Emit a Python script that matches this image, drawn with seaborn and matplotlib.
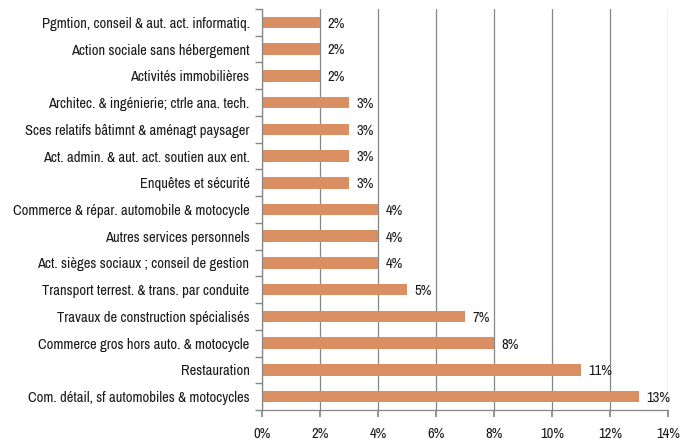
import matplotlib
matplotlib.use("Agg")
import matplotlib.pyplot as plt
import seaborn as sns
import pandas as pd
import numpy as np
from matplotlib import font_manager

categories = [
    "Pgmtion, conseil & aut. act. informatiq.",
    "Action sociale sans hébergement",
    "Activités immobilières",
    "Architec. & ingénierie; ctrle ana. tech.",
    "Sces relatifs bâtimnt & aménagt paysager",
    "Act. admin. & aut. act. soutien aux ent.",
    "Enquêtes et sécurité",
    "Commerce & répar. automobile & motocycle",
    "Autres services personnels",
    "Act. sièges sociaux ; conseil de gestion",
    "Transport terrest. & trans. par conduite",
    "Travaux de construction spécialisés",
    "Commerce gros hors auto. & motocycle",
    "Restauration",
    "Com. détail, sf automobiles & motocycles",
]
values = [2, 2, 2, 3, 3, 3, 3, 4, 4, 4, 5, 7, 8, 11, 13]
xticks = [0, 2, 4, 6, 8, 10, 12, 14]

sns.set_theme(style="white")
fonts = font_manager.fontManager.ttflist
cands = sorted({f.name for f in fonts if ("Narrow" in f.name or "Condensed" in f.name)})
cond_stretch = sorted({f.name for f in fonts if str(f.stretch) in ("condensed", "semi-condensed", "extra-condensed", "75", "87", "62") or (isinstance(f.stretch, int) and f.stretch < 500)})
fam = cands[0] if cands else (cond_stretch[0] if cond_stretch else "Liberation Sans")
stretch = "normal" if cands else ("condensed" if cond_stretch else "normal")
plt.rcParams["font.family"] = [fam, "DejaVu Sans"]
plt.rcParams["font.stretch"] = stretch
fs = 10.5 if (cands or cond_stretch) else 8.3

df = pd.DataFrame({"cat": categories, "val": values})

fig = plt.figure(figsize=(6.93, 4.42), dpi=100)
ax = fig.add_axes([262/693, 1-410/442, (668-262)/693, (410-9)/442])
sns.barplot(data=df, y="cat", x="val", orient="h", color="#D98F62", saturation=1,
            width=0.43, ax=ax, edgecolor="none")

ax.set_xlim(0, 14)
ax.set_ylim(len(categories)-0.5, -0.5)
ax.set_xticks(xticks)
ax.set_xticklabels([f"{t}%" for t in xticks], fontsize=fs)
ax.set_xlabel("")
ax.set_ylabel("")
ax.tick_params(axis="y", labelsize=fs, length=0, pad=9, labelcolor="#1a1a1a")
ax.tick_params(axis="x", length=5, color="#868686", pad=7, bottom=True, labelcolor="#1a1a1a")
ax.grid(axis="x", color="#868686", linewidth=0.9)
ax.set_axisbelow(True)
for s in ["top", "right"]:
    ax.spines[s].set_visible(False)
for s in ["left", "bottom"]:
    ax.spines[s].set_color("#868686")
    ax.spines[s].set_linewidth(0.9)
ax.set_yticks(np.arange(-0.5, len(categories), 1), minor=True)
ax.tick_params(axis="y", which="minor", length=5, color="#868686", left=True)

for i, v in enumerate(values):
    ax.text(v + 0.25, i + 0.05, f"{v}%", va="center", ha="left", fontsize=fs, color="#1a1a1a")

fig.savefig("out.png", dpi=100)
